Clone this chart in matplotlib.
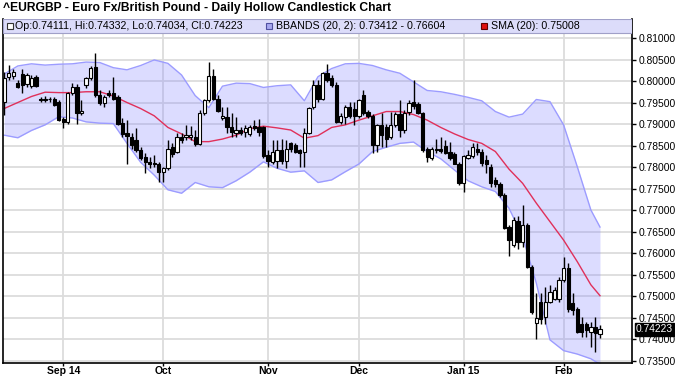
import numpy as np
import pandas as pd
import matplotlib
matplotlib.use('Agg')
import matplotlib.pyplot as plt
import matplotlib.transforms as mtransforms
from matplotlib.patches import Rectangle

plt.rcParams['font.family'] = ['Liberation Sans', 'DejaVu Sans']

# ---------------------------------------------------------------- data
dates = pd.bdate_range('2014-08-13', periods=132)

opens = [0.7952, 0.8010, 0.8011, 0.7996, 0.8016, 0.7993, 0.7988, 0.8010, 0.7958, 0.7957,
         0.7958, 0.7957, 0.7952, 0.7911, 0.7905, 0.7973, 0.7986, 0.7926, 0.7990, 0.8006,
         0.8033, 0.7967, 0.7950, 0.7973, 0.7973, 0.7962, 0.7903, 0.7878, 0.7870, 0.7863,
         0.7839, 0.7824, 0.7812, 0.7810, 0.7808, 0.7789, 0.7797, 0.7847, 0.7835, 0.7870,
         0.7869, 0.7869, 0.7870, 0.7853, 0.7925, 0.7955, 0.8011, 0.7959, 0.7913, 0.7917,
         0.7892, 0.7880, 0.7887, 0.7882, 0.7876, 0.7895, 0.7892, 0.7892, 0.7828, 0.7812,
         0.7814, 0.7839, 0.7814, 0.7855, 0.7851, 0.7839, 0.7835, 0.7880, 0.7940, 0.7990,
         0.7959, 0.8018, 0.8006, 0.7990, 0.7904, 0.7917, 0.7940, 0.7936, 0.7918, 0.7967,
         0.7928, 0.7918, 0.7851, 0.7897, 0.7892, 0.7870, 0.7897, 0.7923, 0.7887, 0.7928,
         0.7951, 0.7946, 0.7925, 0.7841, 0.7820, 0.7842, 0.7841, 0.7849, 0.7835, 0.7830,
         0.7808, 0.7763, 0.7822, 0.7825, 0.7843, 0.7835, 0.7816, 0.7801, 0.7770, 0.7760,
         0.7735, 0.7661, 0.7618, 0.7675, 0.7626, 0.7665, 0.7568, 0.7438, 0.7487, 0.7452,
         0.7487, 0.7494, 0.7494, 0.7537, 0.7566, 0.7484, 0.7469, 0.7435, 0.7435, 0.7417,
         0.7429, 0.74111]
highs = [0.8021, 0.8037, 0.8029, 0.8002, 0.8027, 0.8018, 0.8014, 0.8014, 0.7962, 0.7965,
         0.7963, 0.7962, 0.7955, 0.7917, 0.7975, 0.7996, 0.7994, 0.7956, 0.8010, 0.8035,
         0.8066, 0.7979, 0.7967, 0.7979, 0.8010, 0.7967, 0.7913, 0.7909, 0.7878, 0.7890,
         0.7847, 0.7832, 0.7824, 0.7828, 0.7812, 0.7801, 0.7863, 0.7855, 0.7878, 0.7878,
         0.7897, 0.7895, 0.7886, 0.7932, 0.7959, 0.8045, 0.8029, 0.7967, 0.7940, 0.7940,
         0.7925, 0.7917, 0.7894, 0.7897, 0.7897, 0.7909, 0.7911, 0.7895, 0.7839, 0.7863,
         0.7863, 0.7864, 0.7863, 0.7859, 0.7855, 0.7843, 0.7890, 0.7940, 0.8002, 0.8002,
         0.8021, 0.8039, 0.8014, 0.7998, 0.7925, 0.7944, 0.7952, 0.7952, 0.7959, 0.7979,
         0.7932, 0.7923, 0.7901, 0.7925, 0.7901, 0.7928, 0.7928, 0.7955, 0.7932, 0.7955,
         0.8002, 0.7952, 0.7928, 0.7847, 0.7847, 0.7866, 0.7869, 0.7863, 0.7859, 0.7835,
         0.7812, 0.7828, 0.7839, 0.7855, 0.7855, 0.7843, 0.7828, 0.7807, 0.7776, 0.7766,
         0.7739, 0.7665, 0.7684, 0.7686, 0.7711, 0.7669, 0.7572, 0.7506, 0.7506, 0.7522,
         0.7525, 0.7522, 0.7545, 0.7591, 0.7577, 0.7506, 0.7475, 0.7452, 0.7440, 0.7440,
         0.7452, 0.74332]
lows = [0.7921, 0.8002, 0.8004, 0.7983, 0.7971, 0.7986, 0.7983, 0.7986, 0.7952, 0.7951,
        0.7952, 0.7942, 0.7907, 0.7890, 0.7901, 0.7967, 0.7901, 0.7921, 0.7983, 0.8002,
        0.7963, 0.7944, 0.7940, 0.7963, 0.7955, 0.7897, 0.7870, 0.7808, 0.7843, 0.7835,
        0.7816, 0.7785, 0.7797, 0.7801, 0.7766, 0.7766, 0.7793, 0.7824, 0.7832, 0.7855,
        0.7863, 0.7863, 0.7849, 0.7851, 0.7921, 0.7952, 0.7955, 0.7928, 0.7909, 0.7878,
        0.7870, 0.7870, 0.7874, 0.7870, 0.7872, 0.7886, 0.7872, 0.7822, 0.7801, 0.7808,
        0.7797, 0.7808, 0.7797, 0.7835, 0.7832, 0.7801, 0.7801, 0.7876, 0.7936, 0.7952,
        0.7955, 0.7998, 0.7986, 0.7903, 0.7901, 0.7901, 0.7915, 0.7897, 0.7915, 0.7921,
        0.7915, 0.7832, 0.7835, 0.7847, 0.7847, 0.7866, 0.7893, 0.7870, 0.7878, 0.7921,
        0.7936, 0.7923, 0.7835, 0.7812, 0.7816, 0.7833, 0.7832, 0.7830, 0.7816, 0.7807,
        0.7758, 0.7742, 0.7818, 0.7822, 0.7828, 0.7802, 0.7785, 0.7754, 0.7754, 0.7731,
        0.7655, 0.7593, 0.7615, 0.7610, 0.7615, 0.7564, 0.7459, 0.7401, 0.7436, 0.7436,
        0.7483, 0.7491, 0.7487, 0.7533, 0.7463, 0.7456, 0.7415, 0.7405, 0.7405, 0.7382,
        0.7370, 0.74034]
closes = [0.8006, 0.8018, 0.8021, 0.7986, 0.7990, 0.8014, 0.8008, 0.7988, 0.7956, 0.7956,
          0.7957, 0.7944, 0.7909, 0.7905, 0.7973, 0.7986, 0.7926, 0.7931, 0.8006, 0.8031,
          0.7967, 0.7950, 0.7962, 0.7967, 0.7959, 0.7901, 0.7876, 0.7873, 0.7851, 0.7839,
          0.7820, 0.7812, 0.7807, 0.7807, 0.7789, 0.7797, 0.7843, 0.7830, 0.7869, 0.7863,
          0.7874, 0.7875, 0.7853, 0.7926, 0.7955, 0.8011, 0.7959, 0.7931, 0.7918, 0.7892,
          0.7882, 0.7886, 0.7880, 0.7890, 0.7892, 0.7890, 0.7882, 0.7825, 0.7814, 0.7835,
          0.7839, 0.7814, 0.7843, 0.7841, 0.7835, 0.7832, 0.7880, 0.7938, 0.7990, 0.7959,
          0.8018, 0.8002, 0.7990, 0.7905, 0.7918, 0.7940, 0.7918, 0.7918, 0.7955, 0.7925,
          0.7918, 0.7851, 0.7897, 0.7874, 0.7866, 0.7897, 0.7923, 0.7887, 0.7926, 0.7949,
          0.7942, 0.7925, 0.7839, 0.7824, 0.7841, 0.7839, 0.7838, 0.7832, 0.7820, 0.7808,
          0.7762, 0.7825, 0.7828, 0.7847, 0.7835, 0.7810, 0.7807, 0.7762, 0.7760, 0.7735,
          0.7657, 0.7630, 0.7677, 0.7626, 0.7665, 0.7568, 0.7463, 0.7448, 0.7446, 0.7487,
          0.7510, 0.7514, 0.7537, 0.7564, 0.7469, 0.7467, 0.7417, 0.7417, 0.7421, 0.7429,
          0.7413, 0.74223]

# indicator values read every third session
band_idx = [0, 3, 6, 9, 12, 15, 18, 21, 24, 27, 30, 33, 36, 39, 42, 45, 48, 51, 54, 57,
            60, 63, 66, 69, 72, 75, 78, 81, 84, 87, 90, 93, 96, 99, 102, 105, 108, 111,
            114, 117, 120, 123, 126, 129, 131]
bb_upper = [0.8016, 0.8035, 0.8040, 0.8037, 0.8039, 0.8040, 0.8044, 0.8043, 0.8031, 0.8026,
            0.8036, 0.8049, 0.8041, 0.8014, 0.7966, 0.7938, 0.7988, 0.7995, 0.7994, 0.7985,
            0.7989, 0.7991, 0.7954, 0.8010, 0.8029, 0.8040, 0.8041, 0.8036, 0.8026, 0.8018,
            0.7998, 0.7978, 0.7975, 0.7969, 0.7962, 0.7954, 0.7929, 0.7916, 0.7923, 0.7957,
            0.7952, 0.7898, 0.7801, 0.7700, 0.76604]
bb_lower = [0.7874, 0.7868, 0.7885, 0.7898, 0.7917, 0.7914, 0.7905, 0.7902, 0.7901, 0.7855,
            0.7811, 0.7781, 0.7747, 0.7739, 0.7764, 0.7754, 0.7752, 0.7768, 0.7788, 0.7812,
            0.7797, 0.7788, 0.7791, 0.7764, 0.7770, 0.7789, 0.7807, 0.7836, 0.7846, 0.7855,
            0.7858, 0.7836, 0.7819, 0.7793, 0.7768, 0.7754, 0.7743, 0.7704, 0.7638, 0.7530,
            0.7398, 0.7373, 0.7365, 0.7354, 0.73412]
sma20 = [0.7936, 0.7950, 0.7964, 0.7974, 0.7973, 0.7973, 0.7975, 0.7975, 0.7965, 0.7950,
         0.7936, 0.7919, 0.7892, 0.7877, 0.7859, 0.7859, 0.7865, 0.7874, 0.7889, 0.7895,
         0.7891, 0.7886, 0.7867, 0.7873, 0.7892, 0.7898, 0.7909, 0.7919, 0.7929, 0.7929,
         0.7922, 0.7909, 0.7892, 0.7877, 0.7864, 0.7855, 0.7836, 0.7795, 0.7762, 0.7716,
         0.7673, 0.7630, 0.7580, 0.7526, 0.75008]

month_labels = ['Sep 14', 'Oct', 'Nov', 'Dec', 'Jan 15', 'Feb']
price_ticks = [0.735, 0.740, 0.745, 0.750, 0.755, 0.760, 0.765, 0.770, 0.775,
               0.780, 0.785, 0.790, 0.795, 0.800, 0.805, 0.810]

title = '^EURGBP - Euro Fx/British Pound - Daily Hollow Candlestick Chart'
ohlc_text = 'Op:0.74111, Hi:0.74332, Lo:0.74034, Cl:0.74223'
bb_text = 'BBANDS (20, 2): 0.73412 - 0.76604'
sma_text = 'SMA (20): 0.75008'
last_text = '0.74223'

# ---------------------------------------------------------------- plot
W, H = 675, 379
grid_col = '#dcdcdc'
fig = plt.figure(figsize=(W / 100, H / 100), dpi=100)
ax = fig.add_axes([3 / W, 1 - 363 / H, 629 / W, 344 / H])
ax.set_xlim(-0.26, 138.04)
ax.set_ylim(0.73442, 0.81442)

o = np.array(opens)
c = np.array(closes)
xs = np.arange(len(o))
up = c >= o

# grid
month_start = np.flatnonzero(np.r_[True, dates.month[1:] != dates.month[:-1]])[1:]
for p in price_ticks:
    ax.axhline(p, color=grid_col, lw=1.3, zorder=0.5)
for m in month_start:
    ax.axvline(m, color=grid_col, lw=1.3, zorder=0.5)

# bollinger band + sma
ax.fill_between(band_idx, bb_lower, bb_upper, color='#8c8cff', alpha=0.3, lw=0, zorder=1)
ax.plot(band_idx, bb_upper, color='#9c9cff', lw=1, zorder=1.2)
ax.plot(band_idx, bb_lower, color='#9c9cff', lw=1, zorder=1.2)
ax.plot(band_idx, sma20, color='#e0305a', lw=1, zorder=2)

# candles
ax.vlines(xs, lows, highs, color='black', lw=1, zorder=3)
body_h = np.maximum(np.abs(c - o), 0.00005)
ax.bar(xs, body_h, bottom=np.minimum(o, c), width=0.72,
       color=np.where(up, 'white', 'black'), edgecolor='black', lw=0.8, zorder=4)

# axes styling
ax.yaxis.tick_right()
ax.set_yticks(price_ticks)
ax.set_yticklabels(['%.5f' % p for p in price_ticks], fontsize=7.4)
ax.set_xticks(month_start)
ax.set_xticklabels(month_labels, fontsize=7.5, fontweight='bold')
ax.tick_params(axis='y', length=3, width=1, pad=1.5, colors='black')
ax.tick_params(axis='x', length=2, width=1, pad=0.5)
for side in ['left', 'bottom', 'right']:
    ax.spines[side].set_linewidth(1.2)
ax.spines['top'].set_visible(False)

# legend strip
strip_h = 14 / 344
ax.add_patch(Rectangle((0, 1 - strip_h), 1, strip_h, transform=ax.transAxes,
                       facecolor='#dcdcfa', edgecolor='#a0a0c8', lw=0.8, zorder=6))
ty = 1 - strip_h / 2
def sq(xpix, face, edge):
    ax.add_patch(Rectangle(((xpix - 3) / 629, ty - 3 / 344), 6 / 629, 6 / 344,
                           transform=ax.transAxes, facecolor=face, edgecolor=edge,
                           lw=0.8, zorder=7))
sq(7, 'white', '#333333')
ax.text(12 / 629, ty, ohlc_text, transform=ax.transAxes, fontsize=7.7,
        va='center', ha='left', zorder=7)
sq(266, '#a8a8f0', '#5050a0')
ax.text(273 / 629, ty, bb_text, transform=ax.transAxes, fontsize=7.7,
        va='center', ha='left', zorder=7)
sq(481, '#e01010', '#600000')
ax.text(488 / 629, ty, sma_text, transform=ax.transAxes, fontsize=7.7,
        va='center', ha='left', zorder=7)

# last price flag
trans = mtransforms.blended_transform_factory(ax.transAxes, ax.transData)
ax.text(1.006, closes[-1], last_text, transform=trans, fontsize=7.4, color='white',
        va='center', ha='left', zorder=8, clip_on=False,
        bbox=dict(boxstyle='square,pad=0.12', facecolor='black', edgecolor='black'))

fig.text(3 / W, 1 - 8 / H, title, fontsize=8.7, fontweight='bold', va='center', ha='left')

fig.savefig('out.png', dpi=100)
